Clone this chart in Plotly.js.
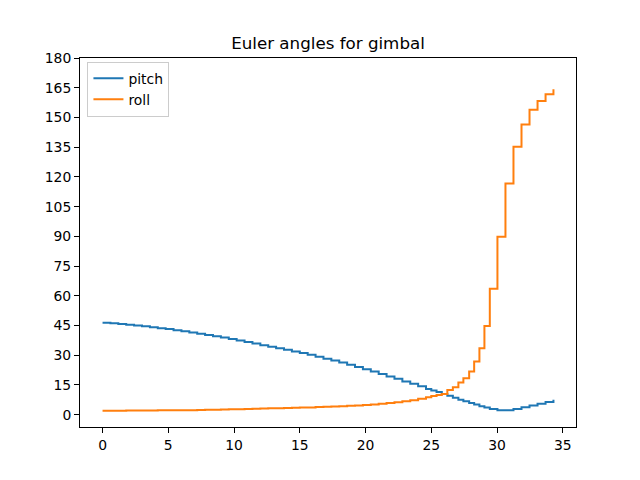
<!DOCTYPE html>
<html>
<head>
<meta charset="utf-8">
<script src="https://cdn.plot.ly/plotly-3.0.1.min.js"></script>
<style>
  html, body { margin: 0; padding: 0; background: #fff; }
  #chart { width: 640px; height: 480px; }
</style>
</head>
<body>
<div id="chart"></div>
<script>
// time samples (s)
var t = [0, 0.6, 1.2, 1.8, 2.4, 3.0, 3.6, 4.2, 4.8, 5.4, 6.0, 6.6, 7.2, 7.8, 8.4, 9.0,
  9.6, 10.2, 10.8, 11.4, 12.0, 12.6, 13.2, 13.8, 14.4, 15.0, 15.6, 16.2, 16.8, 17.4,
  18.0, 18.6, 19.2, 19.8, 20.4, 21.0, 21.6, 22.2, 22.8, 23.4, 24.0, 24.6, 25.0, 25.4,
  25.8, 26.22, 26.64, 27.06, 27.44, 27.88, 28.26, 28.66, 29.04, 29.45, 30.03, 30.64,
  31.25, 31.86, 32.47, 33.08, 33.69, 34.29];

var pitch = [46.4, 46.1, 45.8, 45.4, 45.0, 44.6, 44.1, 43.6, 43.2, 42.6, 42.1, 41.5,
  40.9, 40.2, 39.6, 38.9, 38.2, 37.4, 36.7, 35.9, 35.1, 34.3, 33.5, 32.8, 31.9, 31.1,
  30.2, 29.3, 28.3, 27.3, 26.3, 25.2, 24.1, 23.0, 21.8, 20.6, 19.3, 18.1, 16.8, 15.6,
  14.3, 13.0, 12.2, 11.4, 10.5, 9.6, 8.6, 7.6, 6.8, 5.9, 5.1, 4.3, 3.6, 2.9, 2.3, 2.3,
  2.9, 3.8, 4.6, 5.5, 6.4, 7.5];

var roll = [2.0, 2.0, 2.0, 2.1, 2.1, 2.1, 2.1, 2.2, 2.2, 2.2, 2.3, 2.3, 2.4, 2.5, 2.5,
  2.6, 2.7, 2.8, 2.9, 3.0, 3.1, 3.2, 3.3, 3.4, 3.5, 3.6, 3.7, 3.9, 4.0, 4.2, 4.3, 4.5,
  4.7, 4.9, 5.2, 5.5, 5.9, 6.3, 6.8, 7.3, 8.0, 8.8, 9.4, 9.9, 10.5, 12.5, 13.9, 16.2,
  18.4, 21.8, 26.8, 33.5, 44.8, 63.6, 89.8, 116.7, 135.2, 146.4, 153.9, 158.3, 161.7,
  164.2];

var xTicks = [0, 5, 10, 15, 20, 25, 30, 35];
var yTicks = [0, 15, 30, 45, 60, 75, 90, 105, 120, 135, 150, 165, 180];

var font = 'DejaVu Sans, sans-serif';

var data = [
  {
    name: 'pitch',
    x: t,
    y: pitch,
    mode: 'lines',
    type: 'scatter',
    line: { color: '#1f77b4', width: 2, shape: 'hv' },
  },
  {
    name: 'roll',
    x: t,
    y: roll,
    mode: 'lines',
    type: 'scatter',
    line: { color: '#ff7f0e', width: 2, shape: 'hv' },
  },
];

// matplotlib-style 5% padding on x
var tMax = t[t.length - 1];
var pad = 0.05 * (tMax - t[0]);

var axisCommon = {
  showline: true,
  mirror: true,
  linecolor: '#000',
  linewidth: 1,
  ticks: 'outside',
  ticklen: 5,
  tickwidth: 1,
  tickcolor: '#000',
  showgrid: false,
  zeroline: false,
  tickfont: { family: font, size: 13.9, color: '#000' },
};

var layout = {
  width: 640,
  height: 480,
  margin: { l: 80, r: 64, t: 57.6, b: 52.8 },
  paper_bgcolor: '#fff',
  plot_bgcolor: '#fff',
  showlegend: true,
  title: {
    text: 'Euler angles for gimbal',
    font: { family: font, size: 16.7, color: '#000' },
    xref: 'paper',
    x: 0.5,
    xanchor: 'center',
    yref: 'paper',
    y: 1,
    yanchor: 'bottom',
    pad: { b: 9 },
  },
  xaxis: Object.assign({}, axisCommon, {
    range: [t[0] - pad, tMax + pad],
    tickvals: xTicks,
  }),
  yaxis: Object.assign({}, axisCommon, {
    range: [-6.2, 180],
    tickvals: yTicks,
  }),
  legend: {
    x: 0.015,
    y: 0.99,
    xanchor: 'left',
    yanchor: 'top',
    bgcolor: 'rgba(255,255,255,0.8)',
    bordercolor: '#ccc',
    borderwidth: 1,
    font: { family: font, size: 13.9, color: '#000' },
    itemwidth: 30,
    tracegroupgap: 0,
  },
};

Plotly.newPlot('chart', data, layout, { displayModeBar: false, staticPlot: true });
</script>
</body>
</html>
